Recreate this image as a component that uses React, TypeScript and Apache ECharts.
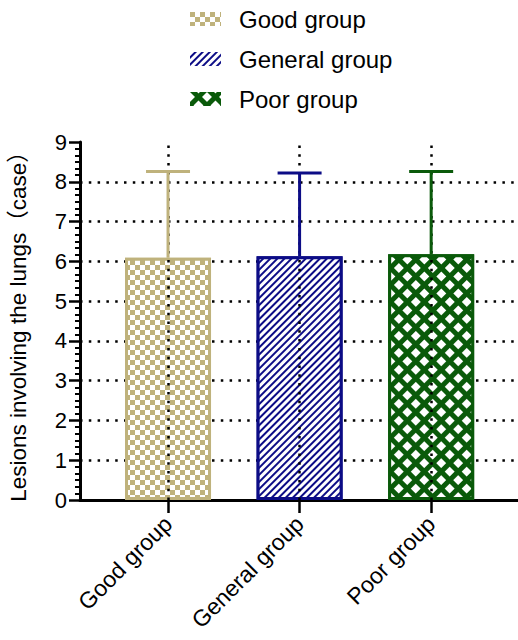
import React, { useEffect, useRef } from "react";
import * as echarts from "echarts";

const categories = ["Good group", "General group", "Poor group"];
const means = [6.09, 6.13, 6.18];
const sds = [2.17, 2.09, 2.08];
const colors = ["#BFB27C", "#0C0C86", "#0A5A0A"];
const yTicks = [0, 1, 2, 3, 4, 5, 6, 7, 8, 9];
const yTitle = "Lesions involving the lungs（case）";

const FONT = "Arial, 'Liberation Sans', 'Noto Sans CJK SC', sans-serif";

const decals = [
  {
    symbol: "rect",
    symbolSize: 1,
    color: "#ffffff",
    dashArrayX: [
      [5, 5],
      [0, 5, 5, 0],
    ],
    dashArrayY: [5, 0],
  },
  {
    symbol: "rect",
    symbolSize: 1,
    color: "#ffffff",
    dashArrayX: [1, 0],
    dashArrayY: [2.4, 1.6],
    rotation: -Math.PI / 4,
  },
  {
    symbol: "rect",
    symbolSize: 1,
    color: "#ffffff",
    dashArrayX: [6.2, 4.4],
    dashArrayY: [6.2, 4.4],
    rotation: Math.PI / 4,
  },
];

export default function App() {
  const ref = useRef<HTMLDivElement>(null);
  useEffect(() => {
    if (!ref.current) return;
    const chart = echarts.init(ref.current, undefined, { renderer: "svg" });
    const idx = categories.map((_, i) => i);
    const barSeries = categories.map((name, i) => ({
      name,
      type: "bar",
      data: [[i, means[i]]],
      barWidth: 86,
      barGap: "-100%",
      itemStyle: {
        color: colors[i],
        borderColor: colors[i],
        borderWidth: 3,
        decal: decals[i],
      },
      emphasis: { disabled: true },
      markLine:
        i === 0
          ? {
              silent: true,
              symbol: "none",
              label: { show: false },
              lineStyle: { color: "#000", width: 2.5, type: [2.5, 6.3] },
              data: idx.map((k) => ({ xAxis: k })),
              z: 5,
            }
          : undefined,
    }));
    const errData = categories.map((_, i) => [i, means[i], means[i] + sds[i]]);
    chart.setOption({
      animation: false,
      textStyle: { fontFamily: FONT },
      legend: {
        orient: "vertical",
        left: 185,
        top: 2,
        itemWidth: 31,
        itemHeight: 14,
        itemGap: 16,
        icon: "rect",
        data: categories,
        itemStyle: { borderWidth: 0 },
        textStyle: {
          fontSize: 24,
          lineHeight: 24,
          color: "#000",
          fontFamily: FONT,
          padding: [0, 0, 0, 13],
        },
      },
      grid: {
        left: 80,
        right: 0,
        top: 142,
        bottom: 140,
        containLabel: false,
        outerBoundsMode: "none",
      },
      xAxis: {
        type: "value",
        min: -0.669,
        max: 2.66,
        axisLine: { show: true, onZero: false, lineStyle: { color: "#000", width: 3 } },
        axisTick: {
          show: true,
          customValues: idx,
          length: 13,
          lineStyle: { color: "#000", width: 2.5 },
        },
        axisLabel: {
          customValues: idx,
          formatter: (v: number) => categories[Math.round(v)] ?? "",
          rotate: 45,
          fontSize: 23,
          color: "#000",
          margin: 20,
          fontFamily: FONT,
        },
        splitLine: { show: false },
      },
      yAxis: {
        type: "value",
        min: yTicks[0],
        max: yTicks[yTicks.length - 1],
        interval: 1,
        name: yTitle,
        nameLocation: "middle",
        nameRotate: 90,
        nameGap: 50,
        nameTextStyle: { fontSize: 22.5, color: "#000", fontFamily: FONT },
        axisLine: { show: true, onZero: false, lineStyle: { color: "#000", width: 3 } },
        axisTick: { show: true, length: 11, lineStyle: { color: "#000", width: 2.5 } },
        minorTick: { show: true, splitNumber: 6, length: 5, lineStyle: { color: "#000", width: 2 } },
        axisLabel: { fontSize: 22, color: "#000", margin: 13, fontFamily: FONT },
        splitLine: {
          show: true,
          showMinLine: false,
          showMaxLine: false,
          lineStyle: { color: "#000", width: 2.5, type: [2.5, 6.3] },
        },
      },
      series: [
        ...barSeries,
        {
          type: "custom",
          name: "error",
          data: errData,
          encode: { x: 0, y: [1, 2] },
          z: 10,
          silent: true,
          renderItem: (params: any, api: any) => {
            const x = api.value(0);
            const m = api.value(1);
            const u = api.value(2);
            const p0 = api.coord([x, m]);
            const p1 = api.coord([x, u]);
            const c = colors[params.dataIndex];
            return {
              type: "group",
              children: [
                {
                  type: "line",
                  shape: { x1: p0[0], y1: p0[1], x2: p1[0], y2: p1[1] },
                  style: { stroke: c, lineWidth: 3 },
                },
                {
                  type: "line",
                  shape: { x1: p1[0] - 22, y1: p1[1], x2: p1[0] + 22, y2: p1[1] },
                  style: { stroke: c, lineWidth: 3 },
                },
              ],
            };
          },
        },
      ],
    });
    return () => chart.dispose();
  }, []);
  return (
    <div
      ref={ref}
      style={{ position: "fixed", left: 0, top: 0, width: 518, height: 640, background: "#fff" }}
    />
  );
}
